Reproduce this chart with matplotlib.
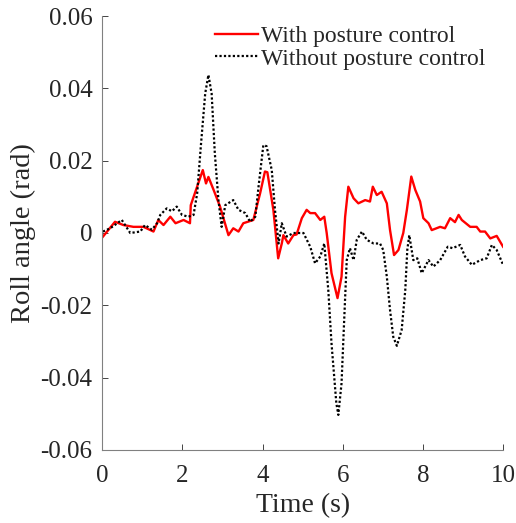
import numpy as np
import matplotlib
matplotlib.use('Agg')
import matplotlib.pyplot as plt

# --- data ---
t_with = [0.02, 0.32, 0.53, 0.78, 1.03, 1.28, 1.40, 1.53, 1.70, 1.83, 2.03, 2.19, 2.21, 2.34, 2.51,
          2.59, 2.65, 2.78, 2.94, 3.15, 3.27, 3.40, 3.52, 3.77, 3.94, 4.06, 4.12, 4.27, 4.39, 4.48,
          4.52, 4.64, 4.77, 4.85, 4.98, 5.10, 5.19, 5.31, 5.44, 5.54, 5.60, 5.72, 5.87, 5.97, 6.06,
          6.14, 6.27, 6.39, 6.56, 6.68, 6.75, 6.85, 6.97, 7.10, 7.18, 7.28, 7.39, 7.51, 7.60, 7.71,
          7.81, 7.93, 8.01, 8.14, 8.22, 8.43, 8.55, 8.68, 8.80, 8.89, 8.97, 9.18, 9.34, 9.43, 9.55,
          9.68, 9.84, 10.0]
roll_with = [-0.0010, 0.0031, 0.0022, 0.0017, 0.0017, 0.0004, 0.0036, 0.0022, 0.0045, 0.0027, 0.0036,
             0.0027, 0.0077, 0.0119, 0.0174, 0.0137, 0.0155, 0.0119, 0.0073, -0.0006, 0.0013, 0.0004,
             0.0027, 0.0036, 0.0110, 0.0170, 0.0168, 0.0064, -0.0070, -0.0029, -0.0006, -0.0029,
             -0.0006, -0.0004, 0.0041, 0.0064, 0.0055, 0.0055, 0.0036, 0.0045, 0.0000, -0.0111,
             -0.0180, -0.0121, 0.0045, 0.0128, 0.0096, 0.0082, 0.0091, 0.0087, 0.0128, 0.0105, 0.0114,
             0.0082, 0.0008, -0.0061, -0.0047, 0.0000, 0.0064, 0.0156, 0.0119, 0.0087, 0.0041, 0.0027,
             0.0008, 0.0017, 0.0013, 0.0041, 0.0030, 0.0050, 0.0036, 0.0017, 0.0017, 0.0004, 0.0004,
             -0.0015, -0.0008, -0.0038]

t_without = [0.02, 0.20, 0.49, 0.70, 0.95, 1.07, 1.24, 1.37, 1.45, 1.61, 1.74, 1.86, 1.99, 2.15, 2.28,
             2.37, 2.46, 2.57, 2.65, 2.73, 2.81, 2.90, 2.98, 3.07, 3.27, 3.40, 3.57, 3.69, 3.82, 3.90,
             4.02, 4.10, 4.23, 4.31, 4.40, 4.48, 4.60, 4.77, 5.02, 5.19, 5.31, 5.44, 5.54, 5.64, 5.72,
             5.84, 5.89, 5.97, 6.04, 6.10, 6.18, 6.27, 6.35, 6.48, 6.60, 6.77, 6.93, 7.01, 7.10, 7.18,
             7.26, 7.35, 7.47, 7.56, 7.61, 7.66, 7.76, 7.86, 7.97, 8.14, 8.26, 8.43, 8.62, 8.74, 8.93,
             9.05, 9.22, 9.43, 9.59, 9.72, 9.84, 10.0]
roll_without = [0.0004, 0.0013, 0.0036, 0.0000, 0.0004, 0.0022, 0.0009, 0.0027, 0.0050, 0.0068, 0.0060,
                0.0073, 0.0050, 0.0045, 0.0050, 0.0110, 0.0239, 0.0386, 0.0437, 0.0386, 0.0220, 0.0091,
                0.0017, 0.0077, 0.0091, 0.0064, 0.0055, 0.0031, 0.0045, 0.0128, 0.0243, 0.0240, 0.0174,
                0.0064, -0.0029, 0.0027, -0.0010, 0.0000, 0.0000, -0.0038, -0.0084, -0.0065, -0.0029,
                -0.0158, -0.0305, -0.0470, -0.0503, -0.0416, -0.0231, -0.0075, -0.0042, -0.0075, -0.0019,
                0.0004, -0.0019, -0.0029, -0.0029, -0.0047, -0.0121, -0.0213, -0.0287, -0.0312, -0.0268,
                -0.0158, -0.0047, -0.0006, -0.0075, -0.0070, -0.0111, -0.0075, -0.0093, -0.0075, -0.0038,
                -0.0042, -0.0033, -0.0065, -0.0088, -0.0075, -0.0070, -0.0033, -0.0047, -0.0088]

x_ticks = [0, 2, 4, 6, 8, 10]
y_ticks = [-0.06, -0.04, -0.02, 0, 0.02, 0.04, 0.06]
y_tick_labels = ['-0.06', '-0.04', '-0.02', '0', '0.02', '0.04', '0.06']

plt.rcParams['font.family'] = ['Liberation Serif', 'DejaVu Serif']

fig = plt.figure(figsize=(5.16, 5.23), dpi=100)
ax = fig.add_axes([0.198, 0.1396, 0.777, 0.8298])

ax.plot(t_with, roll_with, color='#ff0000', linewidth=1.7, label='With posture control')
ax.plot(t_without, roll_without, color='black', linewidth=1.6, linestyle=(0, (1, 1)),
        label='Without posture control')

ax.set_xlim(0, 10)
ax.set_ylim(-0.06, 0.06)
ax.set_xticks(x_ticks)
ax.set_yticks(y_ticks)
ax.set_yticklabels(y_tick_labels)
ax.tick_params(direction='in', length=4, width=0.6, labelsize=18, colors='#262626', pad=7)
ax.tick_params(axis='x', pad=11)
for side in ['top', 'right']:
    ax.spines[side].set_visible(False)
for side in ['left', 'bottom']:
    ax.spines[side].set_color('#808080')
    ax.spines[side].set_linewidth(0.8)

ax.set_xlabel('Time (s)', fontsize=20, color='#262626', labelpad=4)
ax.set_ylabel('Roll angle (rad)', fontsize=20.5, color='#262626', labelpad=3)

leg = ax.legend(loc='upper right', bbox_to_anchor=(0.98, 1.0), frameon=False, fontsize=17,
                handlelength=1.8, handletextpad=0.15, labelspacing=0.05, borderaxespad=0)
for txt in leg.get_texts():
    txt.set_color('#262626')

fig.savefig('out.png', dpi=100)
